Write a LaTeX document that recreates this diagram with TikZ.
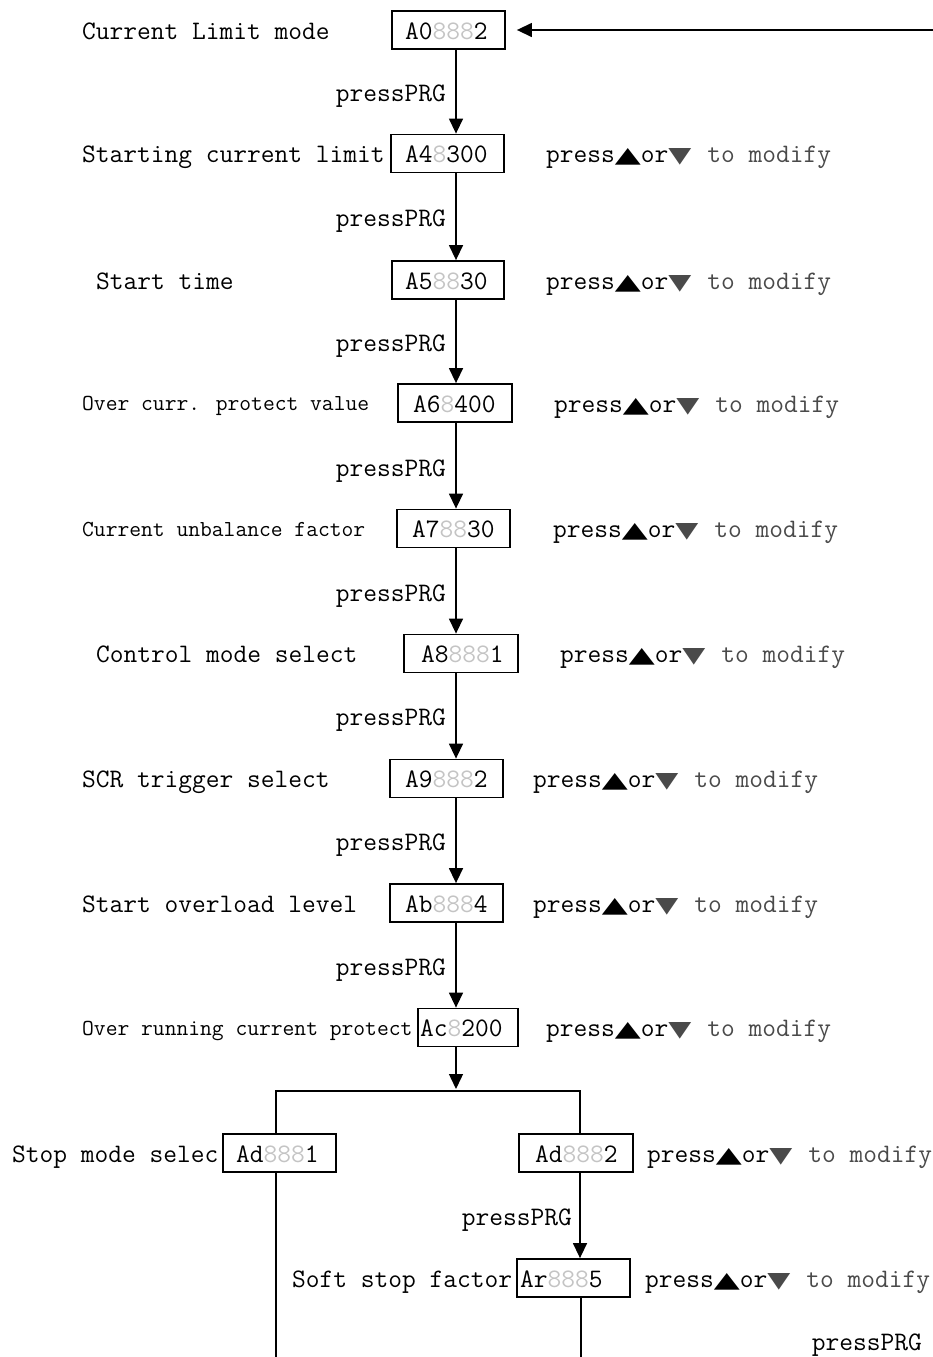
\documentclass[tikz,border=0pt]{standalone}
\usepackage{fontspec}
\usepackage{graphicx}
\usetikzlibrary{arrows.meta}
\newfontfamily\symfam{DejaVu Sans}
\newcommand\bigf{\ttfamily\fontsize{26.7pt}{30pt}\selectfont}
\newcommand\smallf{\ttfamily\fontsize{22.9pt}{25pt}\selectfont}
\definecolor{dgray}{HTML}{C4C4C4}
\definecolor{tmod}{HTML}{4A4A4A}
\newcommand\upt{\resizebox{26pt}{14pt}{\symfam ▲}}
\newcommand\dnt{\textcolor{tmod}{\resizebox{23pt}{14pt}{\symfam ▼}}}
\newcommand\pressmod{press\upt or\dnt\hspace{16pt}\textcolor{tmod}{to modify}}
\newcommand\gr[1]{\textcolor{dgray}{#1}}
\tikzset{
  box/.style={draw, line width=1.8pt, inner sep=0pt, minimum height=38pt},
  lab/.style={anchor=base west, inner sep=0pt, font=\bigf},
  slab/.style={anchor=base west, inner sep=0pt, font=\smallf},
  prg/.style={anchor=base east, inner sep=0pt, font=\bigf},
  conn/.style={line width=1.4pt},
  arr/.style={conn, -{Triangle[length=15pt,width=14pt]}},
}
\begin{document}
\begin{tikzpicture}[x=1pt,y=-1pt]
\useasboundingbox (0,0) rectangle (933,1357);
% boxes
\node[box, minimum width=113pt] (b1) at (448.5,30) {};
\node[box, minimum width=113pt] (b2) at (447.5,153.5) {};
\node[box, minimum width=112pt] (b3) at (448,280) {};
\node[box, minimum width=114pt] (b4) at (455,403) {};
\node[box, minimum width=113pt] (b5) at (453.5,528.5) {};
\node[box, minimum width=114pt] (b6) at (461,653.5) {};
\node[box, minimum width=113pt] (b7) at (446.5,778.5) {};
\node[box, minimum width=113pt] (b8) at (446.5,903) {};
\node[box, minimum width=100pt] (b9) at (468,1027.5) {};
\node[box, minimum width=113pt] (b10a) at (279.5,1153) {};
\node[box, minimum width=114pt] (b10b) at (576,1153) {};
\node[box, minimum width=113pt] (b11) at (573.5,1278) {};
% values
\node[lab] (v1) at (405,39) {A0\gr{888}2};
\node[lab] (v2) at (405,162.5) {A4\gr{8}300};
\node[lab] (v3) at (405,289) {A5\gr{88}30};
\node[lab] (v4) at (413,412) {A6\gr{8}400};
\node[lab] (v5) at (412,537.5) {A7\gr{88}30};
\node[lab] (v6) at (421,662.5) {A8\gr{888}1};
\node[lab] (v7) at (405,787.5) {A9\gr{888}2};
\node[lab] (v8) at (405,912) {Ab\gr{888}4};
\node[lab] (v9) at (420,1036.5) {Ac\gr{8}200};
\node[lab] (v10a) at (236,1162) {Ad\gr{888}1};
\node[lab] (v10b) at (535,1162) {Ad\gr{888}2};
\node[lab] (v11) at (520,1287) {Ar\gr{888}5};
% labels
\node[lab] (l1) at (82,39) {Current Limit mode};
\node[lab] (l2) at (82,162.5) {Starting current limit};
\node[lab] (l3) at (96,289) {Start time};
\node[slab] (l4) at (82,410.5) {Over curr. protect value};
\node[slab] (l5) at (82,536) {Current unbalance factor};
\node[lab] (l6) at (96,662.5) {Control mode select};
\node[lab] (l7) at (82,787.5) {SCR trigger select};
\node[lab] (l8) at (82,912) {Start overload level};
\node[slab] (l9) at (82,1035) {Over running current protect};
\node[lab] (l10) at (12,1162) {Stop mode selec};
\node[lab] (l11) at (292,1287) {Soft stop factor};
% press to modify
\node[lab] (m2) at (546,162.5) {\pressmod};
\node[lab] (m3) at (546,289) {\pressmod};
\node[lab] (m4) at (554,412) {\pressmod};
\node[lab] (m5) at (553,537.5) {\pressmod};
\node[lab] (m6) at (560,662.5) {\pressmod};
\node[lab] (m7) at (533,787.5) {\pressmod};
\node[lab] (m8) at (533,912) {\pressmod};
\node[lab] (m9) at (546,1036.5) {\pressmod};
\node[lab] (m10) at (647,1162) {\pressmod};
\node[lab] (m11) at (645,1287) {\pressmod};
% pressPRG
\node[prg] (p1) at (446,101.5) {pressPRG};
\node[prg] (p2) at (446,226) {pressPRG};
\node[prg] (p3) at (446,351) {pressPRG};
\node[prg] (p4) at (446,476) {pressPRG};
\node[prg] (p5) at (446,601) {pressPRG};
\node[prg] (p6) at (446,725.5) {pressPRG};
\node[prg] (p7) at (446,850.5) {pressPRG};
\node[prg] (p8) at (446,975) {pressPRG};
\node[prg] (p9) at (572,1225.5) {pressPRG};
\node[prg] (p10) at (922,1350) {pressPRG};
% connectors
\coordinate (sp) at (456,0);
\coordinate (in) at (933,30);
\draw[arr, shorten >=11pt] (in) -- (b1.east);
\draw[arr] (b1.south -| sp) -- (b2.north -| sp);
\draw[arr] (b2.south -| sp) -- (b3.north -| sp);
\draw[arr] (b3.south -| sp) -- (b4.north -| sp);
\draw[arr] (b4.south -| sp) -- (b5.north -| sp);
\draw[arr] (b5.south -| sp) -- (b6.north -| sp);
\draw[arr] (b6.south -| sp) -- (b7.north -| sp);
\draw[arr] (b7.south -| sp) -- (b8.north -| sp);
\draw[arr] (b8.south -| sp) -- (b9.north -| sp);
\coordinate (jc) at (456,1089);
\coordinate (jl) at (276,1091);
\coordinate (jr) at (580,1091);
\draw[arr] (b9.south -| sp) -- (jc);
\draw[conn] (b10a.north -| jl) -- (jl) -- (jr) -- (b10b.north -| jr);
\draw[arr] (b10b.south -| jr) -- (b11.north -| jr);
\coordinate (el) at (276,1357);
\coordinate (er) at (581,1357);
\draw[conn] (b10a.south -| el) -- (el);
\draw[conn] (b11.south -| er) -- (er);
\end{tikzpicture}
\end{document}
